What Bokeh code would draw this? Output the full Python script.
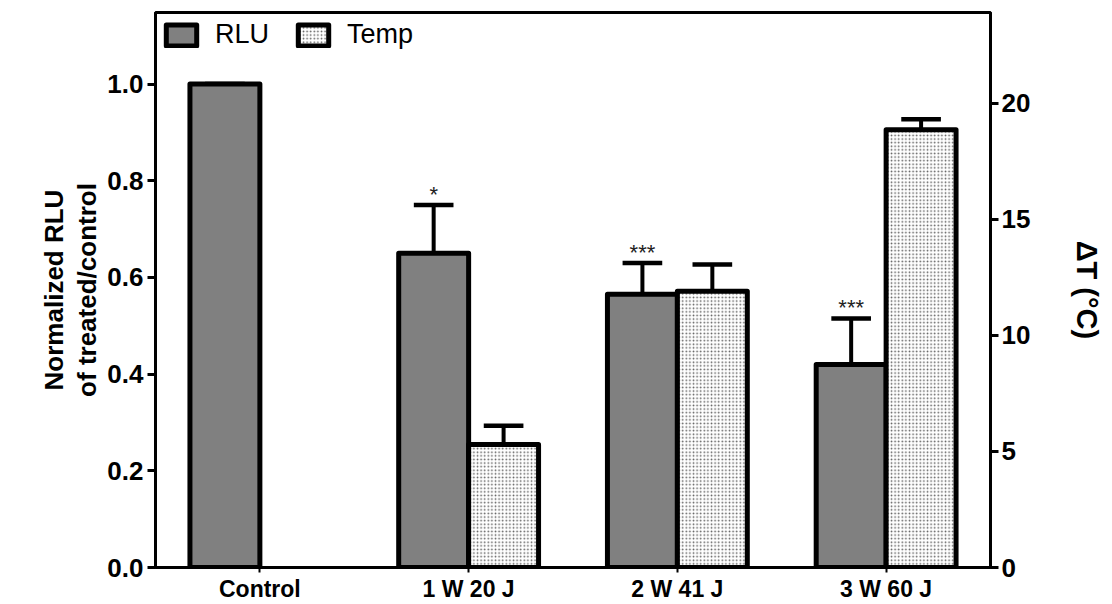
from bokeh.plotting import figure
from bokeh.models import (ColumnDataSource, FactorRange, Range1d, LinearAxis,
                          Legend, LegendItem, FixedTicker, CustomJSTickFormatter)
from bokeh.transform import dodge
from bokeh.core.properties import value
from bokeh.embed import file_html
from bokeh.resources import INLINE

# Groups and measured values
groups = ["Control", "1 W 20 J", "2 W 41 J", "3 W 60 J"]
rlu = [1.0, 0.65, 0.565, 0.42]
rlu_err = [0.0, 0.10, 0.065, 0.095]
rlu_marks = ["", "*", "***", "***"]
temp_groups = ["1 W 20 J", "2 W 41 J", "3 W 60 J"]
temp = [5.3, 11.9, 18.85]
temp_err = [0.8, 1.15, 0.45]

FONT = "Liberation Sans"
BAR_W = 0.335
OFF = BAR_W / 2
CAP = 0.095

rlu_src = ColumnDataSource(dict(
    g=groups, top=rlu,
    hi=[v + e for v, e in zip(rlu, rlu_err)],
    star_y=[v + e - 0.004 for v, e in zip(rlu, rlu_err)],
    mark=rlu_marks,
))
temp_src = ColumnDataSource(dict(
    g=temp_groups, top=temp,
    hi=[v + e for v, e in zip(temp, temp_err)],
))

p = figure(x_range=FactorRange(*groups, range_padding=0),
           y_range=Range1d(0, 1.148),
           width=1112, height=604,
           min_border_left=155, min_border_right=122,
           min_border_top=12, min_border_bottom=36,
           output_backend="svg", toolbar_location=None)
p.extra_y_ranges = {"temp": Range1d(0, 23.9)}

p.xgrid.visible = False
p.ygrid.visible = False
p.outline_line_color = "black"
p.outline_line_width = 3

# Error bars (upper only) drawn beneath the bars
for src, off, rng in ((rlu_src, -OFF, "default"), (temp_src, OFF, "temp")):
    p.segment(x0=dodge("g", off, range=p.x_range), y0="top",
              x1=dodge("g", off, range=p.x_range), y1="hi",
              source=src, line_color="black", line_width=4, y_range_name=rng)
    p.segment(x0=dodge("g", off - CAP, range=p.x_range), y0="hi",
              x1=dodge("g", off + CAP, range=p.x_range), y1="hi",
              source=src, line_color="black", line_width=4.5, y_range_name=rng)

r_rlu = p.vbar(x=dodge("g", -OFF, range=p.x_range), top="top", width=BAR_W,
               source=rlu_src, fill_color="#808080", line_color="black",
               line_width=5, line_join="round")
r_temp = p.vbar(x=dodge("g", OFF, range=p.x_range), top="top", width=BAR_W,
                source=temp_src, fill_color="white", line_color="black",
                line_width=5, line_join="round",
                hatch_pattern="dot", hatch_color="#606060",
                hatch_scale=3.6, hatch_weight=1.1, y_range_name="temp")

# Significance marks above the RLU error bars
p.text(x=dodge("g", -OFF, range=p.x_range), y="star_y", text="mark",
       source=rlu_src, text_align="center", text_baseline="bottom",
       text_font=value(FONT), text_font_size="22px", text_color="#222222")


def style_y(a, size):
    a.axis_line_width = 3
    a.axis_line_color = "black"
    a.major_tick_line_width = 3
    a.major_tick_line_color = "black"
    a.major_tick_out = 8
    a.major_tick_in = 0
    a.minor_tick_line_color = None
    a.major_label_text_font = FONT
    a.major_label_text_font_style = "bold"
    a.major_label_text_font_size = size
    a.major_label_text_color = "black"
    a.axis_label_text_font = FONT
    a.axis_label_text_font_style = "bold"
    a.axis_label_text_color = "black"


# Left axis
ax = p.yaxis[0]
ax.ticker = FixedTicker(ticks=[0.0, 0.2, 0.4, 0.6, 0.8, 1.0])
ax.formatter = CustomJSTickFormatter(code="return tick.toFixed(1);")
ax.axis_label = "Normalized RLU\nof treated/control"
style_y(ax, "26px")
ax.major_label_standoff = 4
ax.axis_label_text_font_size = "26px"
ax.axis_label_text_line_height = 1.1
ax.axis_label_standoff = 2

# Right axis
rax = LinearAxis(y_range_name="temp", ticker=FixedTicker(ticks=[0, 5, 10, 15, 20]),
                 axis_label="ΔT (°C)")
style_y(rax, "26px")
rax.major_label_standoff = 3
rax.axis_label_text_font_size = "29px"
rax.axis_label_standoff = 38
p.add_layout(rax, "right")

# Bottom axis
xa = p.xaxis[0]
xa.axis_line_width = 3
xa.axis_line_color = "black"
xa.major_tick_line_color = "black"
xa.major_tick_line_width = 2
xa.major_tick_out = 5
xa.major_tick_in = 0
xa.minor_tick_line_color = None
xa.major_label_text_font = FONT
xa.major_label_text_font_style = "bold"
xa.major_label_text_font_size = "23px"
xa.major_label_text_color = "black"
xa.major_label_standoff = 3

legend = Legend(items=[LegendItem(label="RLU", renderers=[r_rlu]),
                       LegendItem(label="Temp", renderers=[r_temp])],
                location="top_left", orientation="horizontal",
                label_text_font=FONT, label_text_font_size="27px",
                label_text_color="black",
                glyph_width=38, glyph_height=26, spacing=25,
                label_standoff=15, padding=4, margin=7,
                border_line_color=None, background_fill_alpha=0)
p.add_layout(legend)

open("out.html", "w").write(file_html(p, INLINE))
